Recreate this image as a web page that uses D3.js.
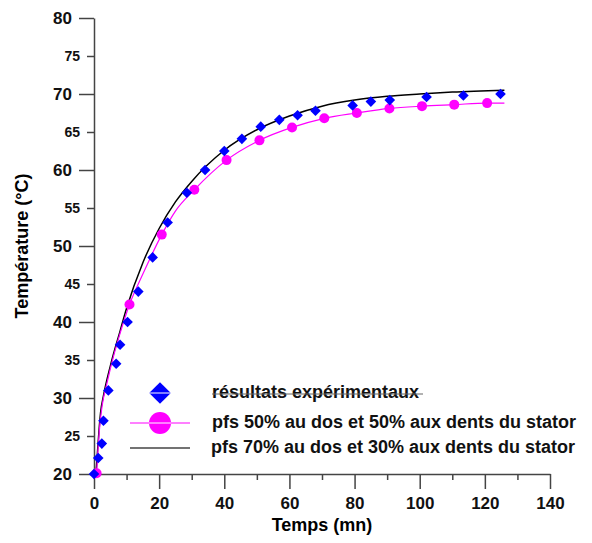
<!DOCTYPE html>
<html>
<head>
<meta charset="utf-8">
<script src="https://cdn.jsdelivr.net/npm/d3@7"></script>
<style>
  body { margin: 0; background: #fff; }
  svg { font-family: "Liberation Sans", Arial, sans-serif; font-weight: bold; }
  .axis path, .axis line { stroke: #444; stroke-width: 1.5; }
  .axis text { fill: #111; font-weight: bold; }
</style>
</head>
<body>
<script>
// measured series
var expTime = [0, 1.3, 2.4, 2.9, 4.4, 6.8, 8.0, 10.3, 13.6, 18, 22.6, 28.5, 34.1, 40.0, 45.4, 51.2, 56.9, 62.5, 68.0, 79.4, 85.0, 90.8, 102.1, 113.4, 124.8];
var expTemp = [20, 22.1, 24, 27, 31, 34.5, 37, 40, 44, 48.5, 53.1, 57, 60, 62.5, 64.1, 65.7, 66.6, 67.2, 67.8, 68.5, 69.0, 69.2, 69.6, 69.8, 70.0];

var pfs50Time = [0.8, 10.9, 20.8, 30.8, 40.7, 50.8, 60.8, 70.7, 80.7, 90.7, 100.7, 110.6, 120.7];
var pfs50Temp = [20.1, 42.3, 51.5, 57.4, 61.3, 63.9, 65.6, 66.8, 67.5, 68.1, 68.4, 68.6, 68.8];

// simulated curves
var curve50Time = [0.8, 1.2, 1.8, 2.5, 4, 6, 8, 10.9, 15, 20.8, 25, 30.8, 40.7, 50.8, 60.8, 70.7, 80.7, 90.7, 100.7, 110.6, 120.7, 126];
var curve50Temp = [20.1, 23, 26.5, 29, 32, 35.5, 38.5, 42.3, 46.3, 51.5, 54.6, 57.4, 61.3, 63.9, 65.6, 66.8, 67.5, 68.1, 68.4, 68.6, 68.8, 68.8];

var curve70Time = [0.6, 1.0, 1.5, 2, 3, 5, 8, 10, 15, 20, 25, 30, 40, 50, 60, 70, 80, 90, 100, 110, 126];
var curve70Temp = [20, 22.5, 25.5, 28, 30.5, 34.2, 38.8, 41.8, 47.8, 52.3, 55.8, 58.5, 62.6, 65.3, 67.1, 68.4, 69.2, 69.7, 70.0, 70.25, 70.5];

var xMajor = [0, 20, 40, 60, 80, 100, 120, 140];
var xMinor = [10, 30, 50, 70, 90, 110, 130];
var yMajor = [20, 30, 40, 50, 60, 70, 80];
var yMinor = [25, 35, 45, 55, 65, 75];

var legendLabels = ["résultats expérimentaux",
                    "pfs 50% au dos et 50% aux dents du stator",
                    "pfs 70% au dos et 30% aux dents du stator"];

var width = 592, height = 543;
var plotLeft = 94, plotRight = 550, plotTop = 18, plotBottom = 474;

var x = d3.scaleLinear().domain([0, 140]).range([plotLeft, plotRight]);
var y = d3.scaleLinear().domain([20, 80]).range([plotBottom, plotTop]);

var svg = d3.select("body").append("svg")
    .attr("width", width)
    .attr("height", height);

// axes
svg.append("g")
    .attr("class", "axis")
    .attr("transform", "translate(0," + plotBottom + ")")
    .call(d3.axisBottom(x).tickValues(xMinor).tickSize(6).tickSizeOuter(0).tickFormat(""))
    .call(function(g){ g.select(".domain").remove(); });

svg.append("g")
    .attr("class", "axis")
    .attr("transform", "translate(0," + plotBottom + ")")
    .call(d3.axisBottom(x).tickValues(xMajor).tickSize(15).tickSizeOuter(0).tickPadding(8))
    .selectAll("text").style("font-size", "17px");

svg.append("g")
    .attr("class", "axis")
    .attr("transform", "translate(" + plotLeft + ",0)")
    .call(d3.axisLeft(y).tickValues(yMinor).tickSize(7).tickSizeOuter(0).tickPadding(7))
    .call(function(g){ g.select(".domain").remove(); })
    .selectAll("text").style("font-size", "14px");

svg.append("g")
    .attr("class", "axis")
    .attr("transform", "translate(" + plotLeft + ",0)")
    .call(d3.axisLeft(y).tickValues(yMajor).tickSize(15).tickSizeOuter(0).tickPadding(7))
    .selectAll("text").style("font-size", "17px");

// axis titles
svg.append("text")
    .attr("x", (plotLeft + plotRight) / 2)
    .attr("y", 531)
    .attr("text-anchor", "middle")
    .style("font-size", "18px")
    .text("Temps (mn)");

svg.append("text")
    .attr("transform", "translate(28," + (plotTop + plotBottom) / 2 + ") rotate(-90)")
    .attr("text-anchor", "middle")
    .style("font-size", "18px")
    .text("Température (°C)");

// curves
var line = d3.line()
    .x(function(d){ return x(d[0]); })
    .y(function(d){ return y(d[1]); })
    .curve(d3.curveMonotoneX);

svg.append("path")
    .datum(d3.zip(curve70Time, curve70Temp))
    .attr("d", line)
    .attr("fill", "none")
    .attr("stroke", "#000")
    .attr("stroke-width", 1.5);

svg.append("path")
    .datum(d3.zip(curve50Time, curve50Temp))
    .attr("d", line)
    .attr("fill", "none")
    .attr("stroke", "#ff00ff")
    .attr("stroke-width", 1.2);

svg.append("g").selectAll("circle")
    .data(d3.zip(pfs50Time, pfs50Temp))
    .enter()
    .append("circle")
    .attr("cx", function(d){ return x(d[0]); })
    .attr("cy", function(d){ return y(d[1]); })
    .attr("r", 5)
    .attr("fill", "#ff00ff");

var diamond = d3.symbol().type(d3.symbolDiamond2).size(72);
svg.append("g").selectAll("path")
    .data(d3.zip(expTime, expTemp))
    .enter()
    .append("path")
    .attr("d", diamond)
    .attr("transform", function(d){ return "translate(" + x(d[0]) + "," + y(d[1]) + ")"; })
    .attr("fill", "#0000ff");

// legend
var legend = svg.append("g");
var rowY = [393, 423, 448];
var textY = [398, 428, 453];

legend.append("path")
    .attr("d", d3.symbol().type(d3.symbolDiamond2).size(300))
    .attr("transform", "translate(160," + rowY[0] + ")")
    .attr("fill", "#0000ff");
legend.append("line")
    .attr("x1", 149).attr("x2", 171)
    .attr("y1", rowY[0]).attr("y2", rowY[0])
    .attr("stroke", "#fff").attr("stroke-width", 1);

legend.append("line")
    .attr("x1", 130).attr("x2", 190)
    .attr("y1", rowY[1]).attr("y2", rowY[1])
    .attr("stroke", "#ff00ff").attr("stroke-width", 1.2);
legend.append("circle")
    .attr("cx", 160).attr("cy", rowY[1]).attr("r", 11)
    .attr("fill", "#ff00ff");
legend.append("line")
    .attr("x1", 149).attr("x2", 171)
    .attr("y1", rowY[1]).attr("y2", rowY[1])
    .attr("stroke", "#fff").attr("stroke-width", 1);

legend.append("line")
    .attr("x1", 130).attr("x2", 190)
    .attr("y1", rowY[2]).attr("y2", rowY[2])
    .attr("stroke", "#444").attr("stroke-width", 1.5);

legend.selectAll("text")
    .data(legendLabels)
    .enter()
    .append("text")
    .attr("x", function(d, i){ return i == 2 ? 211 : 212; })
    .attr("y", function(d, i){ return textY[i]; })
    .style("font-size", "18px")
    .attr("fill", "#111")
    .text(function(d){ return d; });

// stray legend stroke running through the first label
legend.append("line")
    .attr("x1", 212).attr("x2", 423)
    .attr("y1", 394).attr("y2", 394)
    .attr("stroke", "#666").attr("stroke-width", 1);
</script>
</body>
</html>
